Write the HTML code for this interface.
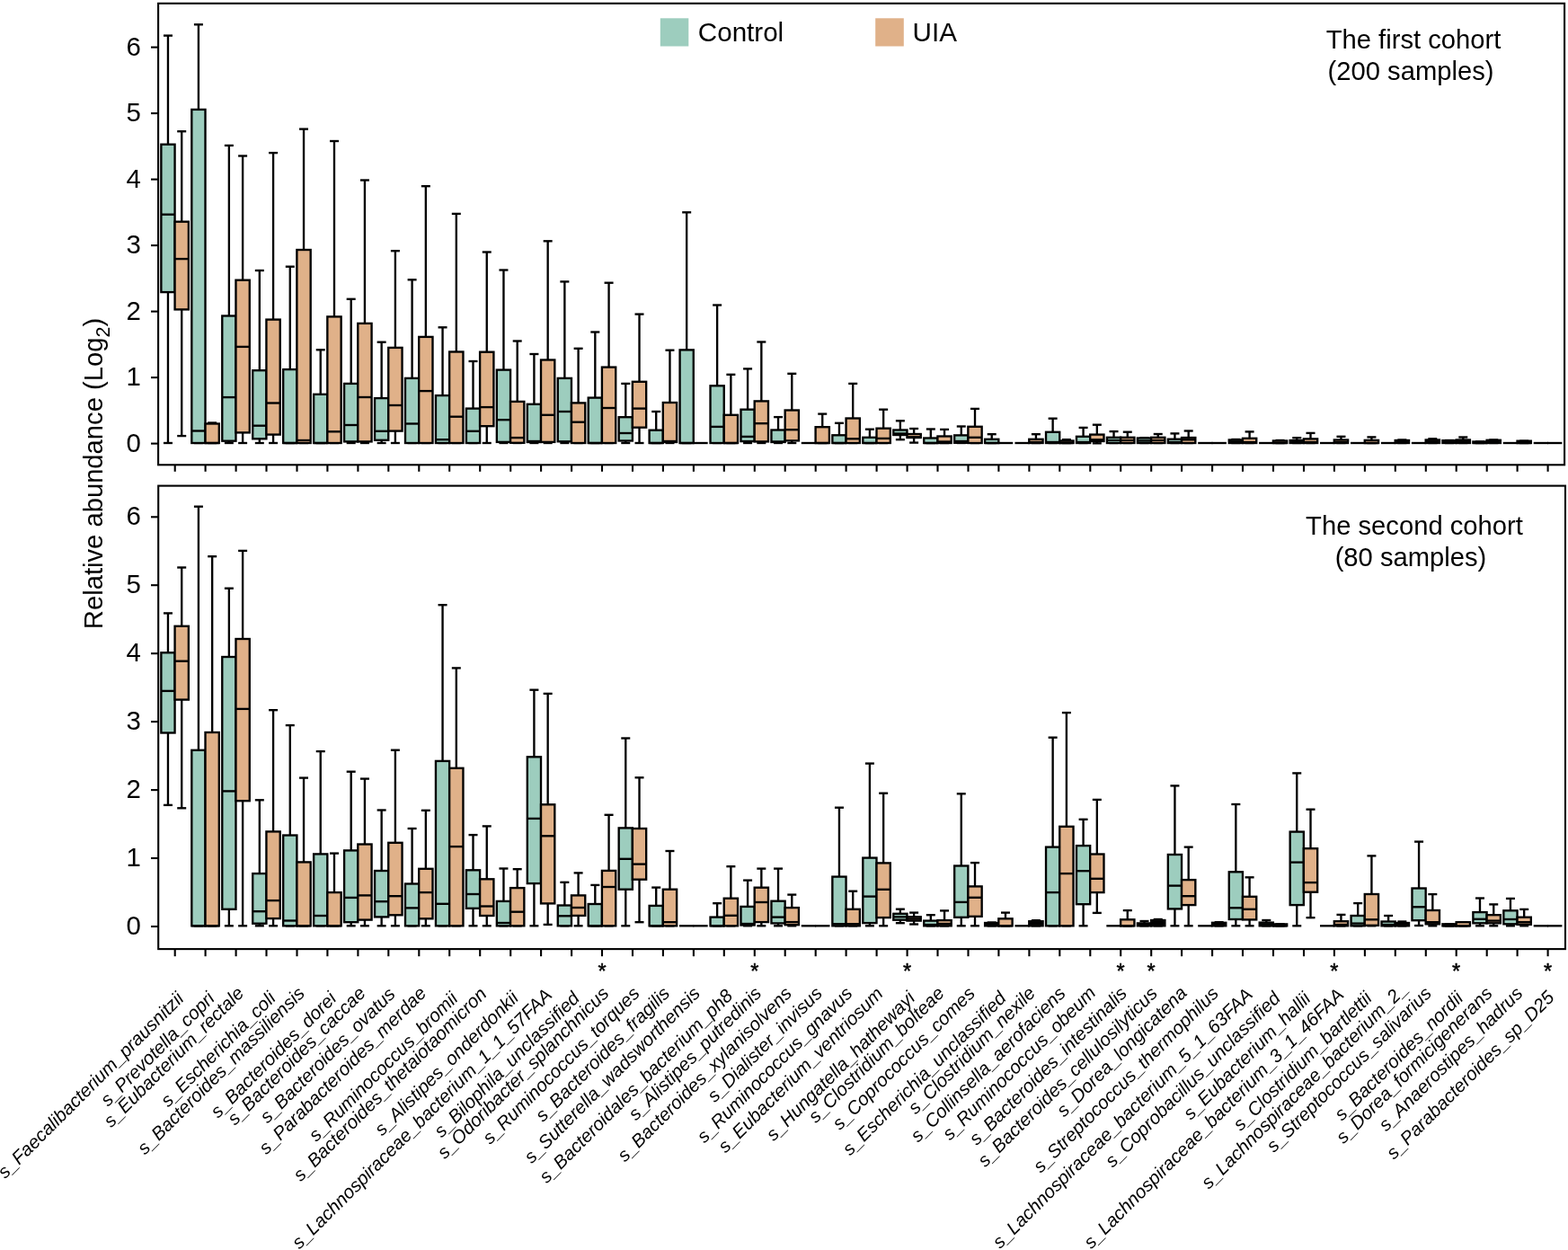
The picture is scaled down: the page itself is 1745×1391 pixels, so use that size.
<!DOCTYPE html><html><head><meta charset="utf-8"><title>Relative abundance box plots</title>
<style>html,body{margin:0;padding:0;background:#fff;}svg{display:block;}text{font-family:"Liberation Sans",Arial,sans-serif;fill:#000;}.lab{font-style:italic;font-size:20.6px;}</style></head><body>
<svg width="1745" height="1391" viewBox="0 0 1745 1391">
<rect x="0" y="0" width="1745" height="1391" fill="#fff"/>
<g stroke="#000" stroke-width="2.35" fill="none" stroke-linecap="butt" stroke-linejoin="miter">
<line x1="186.96" y1="39.6" x2="186.96" y2="160.7" />
<line x1="181.96" y1="39.6" x2="191.96" y2="39.6" />
<line x1="186.96" y1="325.1" x2="186.96" y2="493" />
<line x1="181.96" y1="493" x2="191.96" y2="493" />
<rect x="179.36" y="160.7" width="15.20" height="164.4" fill="#9dcdbe" />
<line x1="179.36" y1="238.7" x2="194.56" y2="238.7" />
<line x1="202.21" y1="146.2" x2="202.21" y2="246.7" />
<line x1="197.21" y1="146.2" x2="207.21" y2="146.2" />
<line x1="202.21" y1="344.4" x2="202.21" y2="485.1" />
<line x1="197.21" y1="485.1" x2="207.21" y2="485.1" />
<rect x="194.56" y="246.7" width="15.30" height="97.7" fill="#e0b189" />
<line x1="194.56" y1="288.1" x2="209.86" y2="288.1" />
<line x1="220.91" y1="27.3" x2="220.91" y2="121.9" />
<line x1="215.91" y1="27.3" x2="225.91" y2="27.3" />
<line x1="215.91" y1="493" x2="225.91" y2="493" />
<rect x="213.31" y="121.9" width="15.20" height="371.1" fill="#9dcdbe" />
<line x1="213.31" y1="479.5" x2="228.51" y2="479.5" />
<line x1="236.16" y1="470.5" x2="236.16" y2="471.5" />
<line x1="231.16" y1="470.5" x2="241.16" y2="470.5" />
<line x1="231.16" y1="493" x2="241.16" y2="493" />
<rect x="228.51" y="471.5" width="15.30" height="21.5" fill="#e0b189" />
<line x1="228.51" y1="493" x2="243.81" y2="493" />
<line x1="254.87" y1="161.9" x2="254.87" y2="351.5" />
<line x1="249.87" y1="161.9" x2="259.87" y2="161.9" />
<line x1="254.87" y1="490.7" x2="254.87" y2="493" />
<line x1="249.87" y1="493" x2="259.87" y2="493" />
<rect x="247.27" y="351.5" width="15.20" height="139.2" fill="#9dcdbe" />
<line x1="247.27" y1="442.1" x2="262.47" y2="442.1" />
<line x1="270.12" y1="173.5" x2="270.12" y2="311.7" />
<line x1="265.12" y1="173.5" x2="275.12" y2="173.5" />
<line x1="270.12" y1="481.4" x2="270.12" y2="493" />
<line x1="265.12" y1="493" x2="275.12" y2="493" />
<rect x="262.47" y="311.7" width="15.30" height="169.7" fill="#e0b189" />
<line x1="262.47" y1="385.9" x2="277.77" y2="385.9" />
<line x1="288.82" y1="301.0" x2="288.82" y2="412.2" />
<line x1="283.82" y1="301.0" x2="293.82" y2="301.0" />
<line x1="288.82" y1="488.3" x2="288.82" y2="493" />
<line x1="283.82" y1="493" x2="293.82" y2="493" />
<rect x="281.22" y="412.2" width="15.20" height="76.1" fill="#9dcdbe" />
<line x1="281.22" y1="473.7" x2="296.42" y2="473.7" />
<line x1="304.07" y1="170.1" x2="304.07" y2="355.6" />
<line x1="299.07" y1="170.1" x2="309.07" y2="170.1" />
<line x1="304.07" y1="483.6" x2="304.07" y2="493" />
<line x1="299.07" y1="493" x2="309.07" y2="493" />
<rect x="296.42" y="355.6" width="15.30" height="128.0" fill="#e0b189" />
<line x1="296.42" y1="448.5" x2="311.72" y2="448.5" />
<line x1="322.78" y1="296.7" x2="322.78" y2="411.1" />
<line x1="317.78" y1="296.7" x2="327.78" y2="296.7" />
<line x1="317.78" y1="493" x2="327.78" y2="493" />
<rect x="315.18" y="411.1" width="15.20" height="81.9" fill="#9dcdbe" />
<line x1="315.18" y1="493" x2="330.38" y2="493" />
<line x1="338.03" y1="143.6" x2="338.03" y2="278.0" />
<line x1="333.03" y1="143.6" x2="343.03" y2="143.6" />
<line x1="333.03" y1="493" x2="343.03" y2="493" />
<rect x="330.38" y="278.0" width="15.30" height="215.0" fill="#e0b189" />
<line x1="330.38" y1="490" x2="345.68" y2="490" />
<line x1="356.73" y1="389.3" x2="356.73" y2="438.8" />
<line x1="351.73" y1="389.3" x2="361.73" y2="389.3" />
<line x1="351.73" y1="493" x2="361.73" y2="493" />
<rect x="349.13" y="438.8" width="15.20" height="54.2" fill="#9dcdbe" />
<line x1="349.13" y1="493" x2="364.33" y2="493" />
<line x1="371.98" y1="157.0" x2="371.98" y2="352.4" />
<line x1="366.98" y1="157.0" x2="376.98" y2="157.0" />
<line x1="366.98" y1="493" x2="376.98" y2="493" />
<rect x="364.33" y="352.4" width="15.30" height="140.6" fill="#e0b189" />
<line x1="364.33" y1="480.3" x2="379.63" y2="480.3" />
<line x1="390.68" y1="332.8" x2="390.68" y2="426.9" />
<line x1="385.68" y1="332.8" x2="395.68" y2="332.8" />
<line x1="390.68" y1="491.4" x2="390.68" y2="493" />
<line x1="385.68" y1="493" x2="395.68" y2="493" />
<rect x="383.08" y="426.9" width="15.20" height="64.5" fill="#9dcdbe" />
<line x1="383.08" y1="473.0" x2="398.28" y2="473.0" />
<line x1="405.93" y1="200.5" x2="405.93" y2="359.9" />
<line x1="400.93" y1="200.5" x2="410.93" y2="200.5" />
<line x1="405.93" y1="491.4" x2="405.93" y2="493" />
<line x1="400.93" y1="493" x2="410.93" y2="493" />
<rect x="398.28" y="359.9" width="15.30" height="131.5" fill="#e0b189" />
<line x1="398.28" y1="442.0" x2="413.58" y2="442.0" />
<line x1="424.64" y1="380.7" x2="424.64" y2="443.1" />
<line x1="419.64" y1="380.7" x2="429.64" y2="380.7" />
<line x1="424.64" y1="489.8" x2="424.64" y2="493" />
<line x1="419.64" y1="493" x2="429.64" y2="493" />
<rect x="417.04" y="443.1" width="15.20" height="46.7" fill="#9dcdbe" />
<line x1="417.04" y1="479.8" x2="432.24" y2="479.8" />
<line x1="439.89" y1="279.2" x2="439.89" y2="386.9" />
<line x1="434.89" y1="279.2" x2="444.89" y2="279.2" />
<line x1="439.89" y1="479.6" x2="439.89" y2="493" />
<line x1="434.89" y1="493" x2="444.89" y2="493" />
<rect x="432.24" y="386.9" width="15.30" height="92.7" fill="#e0b189" />
<line x1="432.24" y1="451.0" x2="447.54" y2="451.0" />
<line x1="458.59" y1="311.3" x2="458.59" y2="420.9" />
<line x1="453.59" y1="311.3" x2="463.59" y2="311.3" />
<line x1="453.59" y1="493" x2="463.59" y2="493" />
<rect x="450.99" y="420.9" width="15.20" height="72.1" fill="#9dcdbe" />
<line x1="450.99" y1="471.5" x2="466.19" y2="471.5" />
<line x1="473.84" y1="207.2" x2="473.84" y2="374.9" />
<line x1="468.84" y1="207.2" x2="478.84" y2="207.2" />
<line x1="468.84" y1="493" x2="478.84" y2="493" />
<rect x="466.19" y="374.9" width="15.30" height="118.1" fill="#e0b189" />
<line x1="466.19" y1="435.1" x2="481.49" y2="435.1" />
<line x1="492.55" y1="364.3" x2="492.55" y2="440.1" />
<line x1="487.55" y1="364.3" x2="497.55" y2="364.3" />
<line x1="487.55" y1="493" x2="497.55" y2="493" />
<rect x="484.95" y="440.1" width="15.20" height="52.9" fill="#9dcdbe" />
<line x1="484.95" y1="489.2" x2="500.15" y2="489.2" />
<line x1="507.80" y1="237.9" x2="507.80" y2="391.5" />
<line x1="502.80" y1="237.9" x2="512.80" y2="237.9" />
<line x1="502.80" y1="493" x2="512.80" y2="493" />
<rect x="500.15" y="391.5" width="15.30" height="101.5" fill="#e0b189" />
<line x1="500.15" y1="463.7" x2="515.45" y2="463.7" />
<line x1="526.50" y1="402.0" x2="526.50" y2="454.6" />
<line x1="521.50" y1="402.0" x2="531.50" y2="402.0" />
<line x1="521.50" y1="493" x2="531.50" y2="493" />
<rect x="518.90" y="454.6" width="15.20" height="38.4" fill="#9dcdbe" />
<line x1="518.90" y1="479.8" x2="534.10" y2="479.8" />
<line x1="541.75" y1="280.5" x2="541.75" y2="391.7" />
<line x1="536.75" y1="280.5" x2="546.75" y2="280.5" />
<line x1="541.75" y1="474.2" x2="541.75" y2="493" />
<line x1="536.75" y1="493" x2="546.75" y2="493" />
<rect x="534.10" y="391.7" width="15.30" height="82.5" fill="#e0b189" />
<line x1="534.10" y1="453.1" x2="549.40" y2="453.1" />
<line x1="560.45" y1="300.5" x2="560.45" y2="411.6" />
<line x1="555.45" y1="300.5" x2="565.45" y2="300.5" />
<line x1="560.45" y1="491.9" x2="560.45" y2="493" />
<line x1="555.45" y1="493" x2="565.45" y2="493" />
<rect x="552.85" y="411.6" width="15.20" height="80.3" fill="#9dcdbe" />
<line x1="552.85" y1="467.2" x2="568.05" y2="467.2" />
<line x1="575.70" y1="379.5" x2="575.70" y2="446.9" />
<line x1="570.70" y1="379.5" x2="580.70" y2="379.5" />
<line x1="570.70" y1="493" x2="580.70" y2="493" />
<rect x="568.05" y="446.9" width="15.30" height="45.9" fill="#e0b189" />
<line x1="568.05" y1="487.1" x2="583.35" y2="487.1" />
<line x1="594.41" y1="394.0" x2="594.41" y2="449.8" />
<line x1="589.41" y1="394.0" x2="599.41" y2="394.0" />
<line x1="594.41" y1="492.0" x2="594.41" y2="493" />
<line x1="589.41" y1="493" x2="599.41" y2="493" />
<rect x="586.81" y="449.8" width="15.20" height="42.2" fill="#9dcdbe" />
<line x1="586.81" y1="491.0" x2="602.01" y2="491.0" />
<line x1="609.66" y1="268.3" x2="609.66" y2="400.5" />
<line x1="604.66" y1="268.3" x2="614.66" y2="268.3" />
<line x1="609.66" y1="491.9" x2="609.66" y2="493" />
<line x1="604.66" y1="493" x2="614.66" y2="493" />
<rect x="602.01" y="400.5" width="15.30" height="91.4" fill="#e0b189" />
<line x1="602.01" y1="461.8" x2="617.31" y2="461.8" />
<line x1="628.36" y1="313.4" x2="628.36" y2="420.9" />
<line x1="623.36" y1="313.4" x2="633.36" y2="313.4" />
<line x1="628.36" y1="491.3" x2="628.36" y2="493" />
<line x1="623.36" y1="493" x2="633.36" y2="493" />
<rect x="620.76" y="420.9" width="15.20" height="70.4" fill="#9dcdbe" />
<line x1="620.76" y1="458.0" x2="635.96" y2="458.0" />
<line x1="643.61" y1="387.8" x2="643.61" y2="448.4" />
<line x1="638.61" y1="387.8" x2="648.61" y2="387.8" />
<line x1="638.61" y1="493" x2="648.61" y2="493" />
<rect x="635.96" y="448.4" width="15.30" height="44.6" fill="#e0b189" />
<line x1="635.96" y1="469.7" x2="651.26" y2="469.7" />
<line x1="662.32" y1="369.5" x2="662.32" y2="442.6" />
<line x1="657.32" y1="369.5" x2="667.32" y2="369.5" />
<line x1="657.32" y1="493" x2="667.32" y2="493" />
<rect x="654.72" y="442.6" width="15.20" height="50.4" fill="#9dcdbe" />
<line x1="654.72" y1="493" x2="669.92" y2="493" />
<line x1="677.57" y1="314.7" x2="677.57" y2="408.6" />
<line x1="672.57" y1="314.7" x2="682.57" y2="314.7" />
<line x1="672.57" y1="493" x2="682.57" y2="493" />
<rect x="669.92" y="408.6" width="15.30" height="84.4" fill="#e0b189" />
<line x1="669.92" y1="454.0" x2="685.22" y2="454.0" />
<line x1="696.27" y1="426.9" x2="696.27" y2="464.2" />
<line x1="691.27" y1="426.9" x2="701.27" y2="426.9" />
<line x1="696.27" y1="490.5" x2="696.27" y2="493" />
<line x1="691.27" y1="493" x2="701.27" y2="493" />
<rect x="688.67" y="464.2" width="15.20" height="26.3" fill="#9dcdbe" />
<line x1="688.67" y1="482.0" x2="703.87" y2="482.0" />
<line x1="711.52" y1="349.6" x2="711.52" y2="424.8" />
<line x1="706.52" y1="349.6" x2="716.52" y2="349.6" />
<line x1="711.52" y1="475.7" x2="711.52" y2="493" />
<line x1="706.52" y1="493" x2="716.52" y2="493" />
<rect x="703.87" y="424.8" width="15.30" height="50.9" fill="#e0b189" />
<line x1="703.87" y1="454.6" x2="719.17" y2="454.6" />
<line x1="730.22" y1="458.0" x2="730.22" y2="478.7" />
<line x1="725.22" y1="458.0" x2="735.22" y2="458.0" />
<line x1="725.22" y1="493" x2="735.22" y2="493" />
<rect x="722.62" y="478.7" width="15.20" height="14.3" fill="#9dcdbe" />
<line x1="722.62" y1="493" x2="737.82" y2="493" />
<line x1="745.47" y1="389.7" x2="745.47" y2="448.0" />
<line x1="740.47" y1="389.7" x2="750.47" y2="389.7" />
<line x1="745.47" y1="492" x2="745.47" y2="493" />
<line x1="740.47" y1="493" x2="750.47" y2="493" />
<rect x="737.82" y="448.0" width="15.30" height="44.0" fill="#e0b189" />
<line x1="737.82" y1="491" x2="753.12" y2="491" />
<line x1="764.18" y1="236.3" x2="764.18" y2="389.4" />
<line x1="759.18" y1="236.3" x2="769.18" y2="236.3" />
<line x1="759.18" y1="493" x2="769.18" y2="493" />
<rect x="756.58" y="389.4" width="15.20" height="103.6" fill="#9dcdbe" />
<line x1="756.58" y1="493" x2="771.78" y2="493" />
<line x1="771.18" y1="493.0" x2="787.68" y2="493.0" />
<line x1="798.13" y1="339.5" x2="798.13" y2="429.3" />
<line x1="793.13" y1="339.5" x2="803.13" y2="339.5" />
<line x1="793.13" y1="493" x2="803.13" y2="493" />
<rect x="790.53" y="429.3" width="15.20" height="63.7" fill="#9dcdbe" />
<line x1="790.53" y1="474.9" x2="805.73" y2="474.9" />
<line x1="813.38" y1="416.8" x2="813.38" y2="461.8" />
<line x1="808.38" y1="416.8" x2="818.38" y2="416.8" />
<line x1="808.38" y1="493" x2="818.38" y2="493" />
<rect x="805.73" y="461.8" width="15.30" height="31.2" fill="#e0b189" />
<line x1="805.73" y1="493" x2="821.03" y2="493" />
<line x1="832.09" y1="410.4" x2="832.09" y2="455.7" />
<line x1="827.09" y1="410.4" x2="837.09" y2="410.4" />
<line x1="832.09" y1="491.1" x2="832.09" y2="493" />
<line x1="827.09" y1="493" x2="837.09" y2="493" />
<rect x="824.49" y="455.7" width="15.20" height="35.4" fill="#9dcdbe" />
<line x1="824.49" y1="485.9" x2="839.69" y2="485.9" />
<line x1="847.34" y1="380.5" x2="847.34" y2="446.4" />
<line x1="842.34" y1="380.5" x2="852.34" y2="380.5" />
<line x1="847.34" y1="491.4" x2="847.34" y2="493" />
<line x1="842.34" y1="493" x2="852.34" y2="493" />
<rect x="839.69" y="446.4" width="15.30" height="45.0" fill="#e0b189" />
<line x1="839.69" y1="471.2" x2="854.99" y2="471.2" />
<line x1="866.04" y1="464.1" x2="866.04" y2="478.5" />
<line x1="861.04" y1="464.1" x2="871.04" y2="464.1" />
<line x1="866.04" y1="492" x2="866.04" y2="493" />
<line x1="861.04" y1="493" x2="871.04" y2="493" />
<rect x="858.44" y="478.5" width="15.20" height="13.5" fill="#9dcdbe" />
<line x1="858.44" y1="491.5" x2="873.64" y2="491.5" />
<line x1="881.29" y1="415.8" x2="881.29" y2="456.5" />
<line x1="876.29" y1="415.8" x2="886.29" y2="415.8" />
<line x1="881.29" y1="490.4" x2="881.29" y2="493" />
<line x1="876.29" y1="493" x2="886.29" y2="493" />
<rect x="873.64" y="456.5" width="15.30" height="33.9" fill="#e0b189" />
<line x1="873.64" y1="478.2" x2="888.94" y2="478.2" />
<line x1="891.79" y1="493.0" x2="908.19" y2="493.0" />
<line x1="915.24" y1="460.6" x2="915.24" y2="475.2" />
<line x1="910.24" y1="460.6" x2="920.24" y2="460.6" />
<line x1="910.24" y1="493" x2="920.24" y2="493" />
<rect x="907.59" y="475.2" width="15.30" height="17.8" fill="#e0b189" />
<line x1="907.59" y1="493" x2="922.89" y2="493" />
<line x1="933.95" y1="470.8" x2="933.95" y2="484.3" />
<line x1="928.95" y1="470.8" x2="938.95" y2="470.8" />
<line x1="928.95" y1="493" x2="938.95" y2="493" />
<rect x="926.35" y="484.3" width="15.20" height="8.7" fill="#9dcdbe" />
<line x1="926.35" y1="493" x2="941.55" y2="493" />
<line x1="949.20" y1="426.9" x2="949.20" y2="465.5" />
<line x1="944.20" y1="426.9" x2="954.20" y2="426.9" />
<line x1="944.20" y1="493" x2="954.20" y2="493" />
<rect x="941.55" y="465.5" width="15.30" height="27.5" fill="#e0b189" />
<line x1="941.55" y1="488.3" x2="956.85" y2="488.3" />
<line x1="967.90" y1="477.7" x2="967.90" y2="486.8" />
<line x1="962.90" y1="477.7" x2="972.90" y2="477.7" />
<line x1="962.90" y1="493" x2="972.90" y2="493" />
<rect x="960.30" y="486.8" width="15.20" height="6.2" fill="#9dcdbe" />
<line x1="960.30" y1="493" x2="975.50" y2="493" />
<line x1="983.15" y1="455.7" x2="983.15" y2="476.7" />
<line x1="978.15" y1="455.7" x2="988.15" y2="455.7" />
<line x1="978.15" y1="493" x2="988.15" y2="493" />
<rect x="975.50" y="476.7" width="15.30" height="16.3" fill="#e0b189" />
<line x1="975.50" y1="487.9" x2="990.80" y2="487.9" />
<line x1="1001.86" y1="468.3" x2="1001.86" y2="478.5" />
<line x1="996.86" y1="468.3" x2="1006.86" y2="468.3" />
<line x1="1001.86" y1="484" x2="1001.86" y2="489.2" />
<line x1="996.86" y1="489.2" x2="1006.86" y2="489.2" />
<rect x="994.26" y="478.5" width="15.20" height="5.5" fill="#9dcdbe" />
<line x1="994.26" y1="482.5" x2="1009.46" y2="482.5" />
<line x1="1017.11" y1="477.0" x2="1017.11" y2="483" />
<line x1="1012.11" y1="477.0" x2="1022.11" y2="477.0" />
<line x1="1017.11" y1="487" x2="1017.11" y2="492.6" />
<line x1="1012.11" y1="492.6" x2="1022.11" y2="492.6" />
<rect x="1009.46" y="483" width="15.30" height="4.0" fill="#e0b189" />
<line x1="1009.46" y1="486.3" x2="1024.76" y2="486.3" />
<line x1="1035.81" y1="477.5" x2="1035.81" y2="487.5" />
<line x1="1030.81" y1="477.5" x2="1040.81" y2="477.5" />
<line x1="1030.81" y1="493" x2="1040.81" y2="493" />
<rect x="1028.21" y="487.5" width="15.20" height="5.5" fill="#9dcdbe" />
<line x1="1028.21" y1="493" x2="1043.41" y2="493" />
<line x1="1051.06" y1="477.9" x2="1051.06" y2="485.5" />
<line x1="1046.06" y1="477.9" x2="1056.06" y2="477.9" />
<line x1="1046.06" y1="493" x2="1056.06" y2="493" />
<rect x="1043.41" y="485.5" width="15.30" height="7.5" fill="#e0b189" />
<line x1="1043.41" y1="491.5" x2="1058.71" y2="491.5" />
<line x1="1069.76" y1="474.5" x2="1069.76" y2="484.4" />
<line x1="1064.76" y1="474.5" x2="1074.76" y2="474.5" />
<line x1="1064.76" y1="493" x2="1074.76" y2="493" />
<rect x="1062.16" y="484.4" width="15.20" height="8.4" fill="#9dcdbe" />
<line x1="1062.16" y1="491.0" x2="1077.36" y2="491.0" />
<line x1="1085.01" y1="454.9" x2="1085.01" y2="474.8" />
<line x1="1080.01" y1="454.9" x2="1090.01" y2="454.9" />
<line x1="1080.01" y1="493" x2="1090.01" y2="493" />
<rect x="1077.36" y="474.8" width="15.30" height="18.2" fill="#e0b189" />
<line x1="1077.36" y1="486.8" x2="1092.66" y2="486.8" />
<line x1="1103.72" y1="483.2" x2="1103.72" y2="488.8" />
<line x1="1098.72" y1="483.2" x2="1108.72" y2="483.2" />
<line x1="1098.72" y1="493" x2="1108.72" y2="493" />
<rect x="1096.12" y="488.8" width="15.20" height="4.2" fill="#9dcdbe" />
<line x1="1096.12" y1="493" x2="1111.32" y2="493" />
<line x1="1110.72" y1="493.0" x2="1127.22" y2="493.0" />
<line x1="1129.47" y1="493.0" x2="1145.87" y2="493.0" />
<line x1="1152.92" y1="483.2" x2="1152.92" y2="488.8" />
<line x1="1147.92" y1="483.2" x2="1157.92" y2="483.2" />
<line x1="1147.92" y1="493" x2="1157.92" y2="493" />
<rect x="1145.27" y="488.8" width="15.30" height="4.2" fill="#e0b189" />
<line x1="1145.27" y1="492" x2="1160.57" y2="492" />
<line x1="1171.63" y1="465.7" x2="1171.63" y2="480.8" />
<line x1="1166.63" y1="465.7" x2="1176.63" y2="465.7" />
<line x1="1166.63" y1="493" x2="1176.63" y2="493" />
<rect x="1164.03" y="480.8" width="15.20" height="12.2" fill="#9dcdbe" />
<line x1="1164.03" y1="492" x2="1179.23" y2="492" />
<line x1="1186.88" y1="489.2" x2="1186.88" y2="490.5" />
<line x1="1181.88" y1="489.2" x2="1191.88" y2="489.2" />
<line x1="1181.88" y1="493" x2="1191.88" y2="493" />
<rect x="1179.23" y="490.5" width="15.30" height="2.5" fill="#e0b189" />
<line x1="1179.23" y1="493" x2="1194.53" y2="493" />
<line x1="1205.58" y1="475.9" x2="1205.58" y2="485.8" />
<line x1="1200.58" y1="475.9" x2="1210.58" y2="475.9" />
<line x1="1200.58" y1="493" x2="1210.58" y2="493" />
<rect x="1197.98" y="485.8" width="15.20" height="7.2" fill="#9dcdbe" />
<line x1="1197.98" y1="492" x2="1213.18" y2="492" />
<line x1="1220.83" y1="472.7" x2="1220.83" y2="483.6" />
<line x1="1215.83" y1="472.7" x2="1225.83" y2="472.7" />
<line x1="1220.83" y1="491" x2="1220.83" y2="493.3" />
<line x1="1215.83" y1="493.3" x2="1225.83" y2="493.3" />
<rect x="1213.18" y="483.6" width="15.30" height="7.4" fill="#e0b189" />
<line x1="1213.18" y1="489.3" x2="1228.48" y2="489.3" />
<line x1="1239.53" y1="480.1" x2="1239.53" y2="486.8" />
<line x1="1234.53" y1="480.1" x2="1244.53" y2="480.1" />
<line x1="1234.53" y1="493" x2="1244.53" y2="493" />
<rect x="1231.93" y="486.8" width="15.20" height="6.2" fill="#9dcdbe" />
<line x1="1231.93" y1="490" x2="1247.13" y2="490" />
<line x1="1254.78" y1="480.7" x2="1254.78" y2="486.8" />
<line x1="1249.78" y1="480.7" x2="1259.78" y2="480.7" />
<line x1="1249.78" y1="493" x2="1259.78" y2="493" />
<rect x="1247.13" y="486.8" width="15.30" height="6.2" fill="#e0b189" />
<line x1="1247.13" y1="490" x2="1262.43" y2="490" />
<line x1="1268.49" y1="487.2" x2="1278.49" y2="487.2" />
<line x1="1268.49" y1="493" x2="1278.49" y2="493" />
<rect x="1265.89" y="487.5" width="15.20" height="5.5" fill="#9dcdbe" />
<line x1="1265.89" y1="490.5" x2="1281.09" y2="490.5" />
<line x1="1288.74" y1="483" x2="1288.74" y2="486.8" />
<line x1="1283.74" y1="483" x2="1293.74" y2="483" />
<line x1="1283.74" y1="493" x2="1293.74" y2="493" />
<rect x="1281.09" y="486.8" width="15.30" height="6.2" fill="#e0b189" />
<line x1="1281.09" y1="490" x2="1296.39" y2="490" />
<line x1="1307.44" y1="482.4" x2="1307.44" y2="488.7" />
<line x1="1302.44" y1="482.4" x2="1312.44" y2="482.4" />
<line x1="1302.44" y1="493" x2="1312.44" y2="493" />
<rect x="1299.84" y="488.7" width="15.20" height="4.3" fill="#9dcdbe" />
<line x1="1299.84" y1="492" x2="1315.04" y2="492" />
<line x1="1322.69" y1="479.5" x2="1322.69" y2="487" />
<line x1="1317.69" y1="479.5" x2="1327.69" y2="479.5" />
<line x1="1317.69" y1="493" x2="1327.69" y2="493" />
<rect x="1315.04" y="487" width="15.30" height="6.0" fill="#e0b189" />
<line x1="1315.04" y1="489.3" x2="1330.34" y2="489.3" />
<line x1="1333.20" y1="493.0" x2="1349.60" y2="493.0" />
<line x1="1348.40" y1="493.0" x2="1364.90" y2="493.0" />
<line x1="1375.35" y1="489" x2="1375.35" y2="489.5" />
<line x1="1370.35" y1="489" x2="1380.35" y2="489" />
<line x1="1370.35" y1="493" x2="1380.35" y2="493" />
<rect x="1367.75" y="489.5" width="15.20" height="3.5" fill="#9dcdbe" />
<line x1="1367.75" y1="491.3" x2="1382.95" y2="491.3" />
<line x1="1390.60" y1="480.4" x2="1390.60" y2="487.8" />
<line x1="1385.60" y1="480.4" x2="1395.60" y2="480.4" />
<line x1="1385.60" y1="493" x2="1395.60" y2="493" />
<rect x="1382.95" y="487.8" width="15.30" height="5.2" fill="#e0b189" />
<line x1="1382.95" y1="492" x2="1398.25" y2="492" />
<line x1="1401.10" y1="493.0" x2="1417.50" y2="493.0" />
<line x1="1424.55" y1="490" x2="1424.55" y2="490.5" />
<line x1="1419.55" y1="490" x2="1429.55" y2="490" />
<line x1="1419.55" y1="493" x2="1429.55" y2="493" />
<rect x="1416.90" y="490.5" width="15.30" height="2.5" fill="#e0b189" />
<line x1="1416.90" y1="493" x2="1432.20" y2="493" />
<line x1="1443.26" y1="487.2" x2="1443.26" y2="490" />
<line x1="1438.26" y1="487.2" x2="1448.26" y2="487.2" />
<line x1="1438.26" y1="493" x2="1448.26" y2="493" />
<rect x="1435.66" y="490" width="15.20" height="3.0" fill="#9dcdbe" />
<line x1="1435.66" y1="491.5" x2="1450.86" y2="491.5" />
<line x1="1458.51" y1="481.9" x2="1458.51" y2="488.4" />
<line x1="1453.51" y1="481.9" x2="1463.51" y2="481.9" />
<line x1="1453.51" y1="493" x2="1463.51" y2="493" />
<rect x="1450.86" y="488.4" width="15.30" height="4.6" fill="#e0b189" />
<line x1="1450.86" y1="492" x2="1466.16" y2="492" />
<line x1="1469.01" y1="493.0" x2="1485.41" y2="493.0" />
<line x1="1492.46" y1="485.8" x2="1492.46" y2="489.5" />
<line x1="1487.46" y1="485.8" x2="1497.46" y2="485.8" />
<line x1="1487.46" y1="493" x2="1497.46" y2="493" />
<rect x="1484.81" y="489.5" width="15.30" height="3.5" fill="#e0b189" />
<line x1="1484.81" y1="492" x2="1500.11" y2="492" />
<line x1="1502.97" y1="493.0" x2="1519.37" y2="493.0" />
<line x1="1526.42" y1="486.4" x2="1526.42" y2="489.9" />
<line x1="1521.42" y1="486.4" x2="1531.42" y2="486.4" />
<line x1="1521.42" y1="493" x2="1531.42" y2="493" />
<rect x="1518.77" y="489.9" width="15.30" height="3.1" fill="#e0b189" />
<line x1="1518.77" y1="493" x2="1534.07" y2="493" />
<line x1="1536.92" y1="493.0" x2="1553.32" y2="493.0" />
<line x1="1560.37" y1="489.5" x2="1560.37" y2="490" />
<line x1="1555.37" y1="489.5" x2="1565.37" y2="489.5" />
<line x1="1555.37" y1="493" x2="1565.37" y2="493" />
<rect x="1552.72" y="490" width="15.30" height="3.0" fill="#e0b189" />
<line x1="1552.72" y1="491.5" x2="1568.02" y2="491.5" />
<line x1="1570.87" y1="493.0" x2="1587.27" y2="493.0" />
<line x1="1594.32" y1="488.3" x2="1594.32" y2="489.5" />
<line x1="1589.32" y1="488.3" x2="1599.32" y2="488.3" />
<line x1="1589.32" y1="493" x2="1599.32" y2="493" />
<rect x="1586.67" y="489.5" width="15.30" height="3.5" fill="#e0b189" />
<line x1="1586.67" y1="491.3" x2="1601.97" y2="491.3" />
<line x1="1608.03" y1="490" x2="1618.03" y2="490" />
<line x1="1608.03" y1="493" x2="1618.03" y2="493" />
<rect x="1605.43" y="490.2" width="15.20" height="2.8" fill="#9dcdbe" />
<line x1="1605.43" y1="491.6" x2="1620.63" y2="491.6" />
<line x1="1628.28" y1="486.5" x2="1628.28" y2="489.5" />
<line x1="1623.28" y1="486.5" x2="1633.28" y2="486.5" />
<line x1="1623.28" y1="493" x2="1633.28" y2="493" />
<rect x="1620.63" y="489.5" width="15.30" height="3.5" fill="#e0b189" />
<line x1="1620.63" y1="491.3" x2="1635.93" y2="491.3" />
<line x1="1641.98" y1="491.5" x2="1651.98" y2="491.5" />
<line x1="1641.98" y1="493" x2="1651.98" y2="493" />
<rect x="1639.38" y="491.5" width="15.20" height="1.5" fill="#9dcdbe" />
<line x1="1639.38" y1="493" x2="1654.58" y2="493" />
<line x1="1657.23" y1="489.5" x2="1667.23" y2="489.5" />
<line x1="1657.23" y1="493" x2="1667.23" y2="493" />
<rect x="1654.58" y="489.8" width="15.30" height="3.2" fill="#e0b189" />
<line x1="1654.58" y1="491.4" x2="1669.88" y2="491.4" />
<line x1="1672.74" y1="493.0" x2="1689.14" y2="493.0" />
<line x1="1691.19" y1="490.7" x2="1701.19" y2="490.7" />
<line x1="1691.19" y1="493" x2="1701.19" y2="493" />
<rect x="1688.54" y="490.7" width="15.30" height="2.3" fill="#e0b189" />
<line x1="1688.54" y1="493" x2="1703.84" y2="493" />
<line x1="1706.69" y1="493.0" x2="1723.09" y2="493.0" />
<line x1="1721.89" y1="493.0" x2="1738.39" y2="493.0" />
<line x1="186.96" y1="682.4" x2="186.96" y2="726.3" />
<line x1="181.96" y1="682.4" x2="191.96" y2="682.4" />
<line x1="186.96" y1="815.5" x2="186.96" y2="895.9" />
<line x1="181.96" y1="895.9" x2="191.96" y2="895.9" />
<rect x="179.36" y="726.3" width="15.20" height="89.2" fill="#9dcdbe" />
<line x1="179.36" y1="768.9" x2="194.56" y2="768.9" />
<line x1="202.21" y1="631.5" x2="202.21" y2="696.8" />
<line x1="197.21" y1="631.5" x2="207.21" y2="631.5" />
<line x1="202.21" y1="778.6" x2="202.21" y2="899.3" />
<line x1="197.21" y1="899.3" x2="207.21" y2="899.3" />
<rect x="194.56" y="696.8" width="15.30" height="81.8" fill="#e0b189" />
<line x1="194.56" y1="735.7" x2="209.86" y2="735.7" />
<line x1="220.91" y1="563.7" x2="220.91" y2="834.8" />
<line x1="215.91" y1="563.7" x2="225.91" y2="563.7" />
<line x1="215.91" y1="1030.3" x2="225.91" y2="1030.3" />
<rect x="213.31" y="834.8" width="15.20" height="195.5" fill="#9dcdbe" />
<line x1="213.31" y1="1030.3" x2="228.51" y2="1030.3" />
<line x1="236.16" y1="619.2" x2="236.16" y2="815.0" />
<line x1="231.16" y1="619.2" x2="241.16" y2="619.2" />
<line x1="231.16" y1="1030.3" x2="241.16" y2="1030.3" />
<rect x="228.51" y="815.0" width="15.30" height="215.3" fill="#e0b189" />
<line x1="228.51" y1="1030.3" x2="243.81" y2="1030.3" />
<line x1="254.87" y1="654.7" x2="254.87" y2="731.0" />
<line x1="249.87" y1="654.7" x2="259.87" y2="654.7" />
<line x1="254.87" y1="1011.8" x2="254.87" y2="1030.3" />
<line x1="249.87" y1="1030.3" x2="259.87" y2="1030.3" />
<rect x="247.27" y="731.0" width="15.20" height="280.8" fill="#9dcdbe" />
<line x1="247.27" y1="880.4" x2="262.47" y2="880.4" />
<line x1="270.12" y1="612.9" x2="270.12" y2="711.0" />
<line x1="265.12" y1="612.9" x2="275.12" y2="612.9" />
<line x1="270.12" y1="891.2" x2="270.12" y2="1030.3" />
<line x1="265.12" y1="1030.3" x2="275.12" y2="1030.3" />
<rect x="262.47" y="711.0" width="15.30" height="180.2" fill="#e0b189" />
<line x1="262.47" y1="788.9" x2="277.77" y2="788.9" />
<line x1="288.82" y1="890.3" x2="288.82" y2="972.1" />
<line x1="283.82" y1="890.3" x2="293.82" y2="890.3" />
<line x1="288.82" y1="1027.7" x2="288.82" y2="1030.3" />
<line x1="283.82" y1="1030.3" x2="293.82" y2="1030.3" />
<rect x="281.22" y="972.1" width="15.20" height="55.6" fill="#9dcdbe" />
<line x1="281.22" y1="1014.2" x2="296.42" y2="1014.2" />
<line x1="304.07" y1="790.2" x2="304.07" y2="925.4" />
<line x1="299.07" y1="790.2" x2="309.07" y2="790.2" />
<line x1="304.07" y1="1022.1" x2="304.07" y2="1030.3" />
<line x1="299.07" y1="1030.3" x2="309.07" y2="1030.3" />
<rect x="296.42" y="925.4" width="15.30" height="96.7" fill="#e0b189" />
<line x1="296.42" y1="1002.1" x2="311.72" y2="1002.1" />
<line x1="322.78" y1="807.1" x2="322.78" y2="929.5" />
<line x1="317.78" y1="807.1" x2="327.78" y2="807.1" />
<line x1="317.78" y1="1030.3" x2="327.78" y2="1030.3" />
<rect x="315.18" y="929.5" width="15.20" height="100.8" fill="#9dcdbe" />
<line x1="315.18" y1="1024.5" x2="330.38" y2="1024.5" />
<line x1="338.03" y1="865.6" x2="338.03" y2="959.4" />
<line x1="333.03" y1="865.6" x2="343.03" y2="865.6" />
<line x1="333.03" y1="1030.3" x2="343.03" y2="1030.3" />
<rect x="330.38" y="959.4" width="15.30" height="70.9" fill="#e0b189" />
<line x1="330.38" y1="1030.3" x2="345.68" y2="1030.3" />
<line x1="356.73" y1="836.1" x2="356.73" y2="950.4" />
<line x1="351.73" y1="836.1" x2="361.73" y2="836.1" />
<line x1="351.73" y1="1030.3" x2="361.73" y2="1030.3" />
<rect x="349.13" y="950.4" width="15.20" height="79.9" fill="#9dcdbe" />
<line x1="349.13" y1="1019.0" x2="364.33" y2="1019.0" />
<line x1="371.98" y1="949.6" x2="371.98" y2="993.1" />
<line x1="366.98" y1="949.6" x2="376.98" y2="949.6" />
<line x1="366.98" y1="1030.3" x2="376.98" y2="1030.3" />
<rect x="364.33" y="993.1" width="15.30" height="37.2" fill="#e0b189" />
<line x1="364.33" y1="1030.3" x2="379.63" y2="1030.3" />
<line x1="390.68" y1="858.7" x2="390.68" y2="946.4" />
<line x1="385.68" y1="858.7" x2="395.68" y2="858.7" />
<line x1="390.68" y1="1026.2" x2="390.68" y2="1030.3" />
<line x1="385.68" y1="1030.3" x2="395.68" y2="1030.3" />
<rect x="383.08" y="946.4" width="15.20" height="79.8" fill="#9dcdbe" />
<line x1="383.08" y1="998.9" x2="398.28" y2="998.9" />
<line x1="405.93" y1="866.6" x2="405.93" y2="939.5" />
<line x1="400.93" y1="866.6" x2="410.93" y2="866.6" />
<line x1="405.93" y1="1023.6" x2="405.93" y2="1030.3" />
<line x1="400.93" y1="1030.3" x2="410.93" y2="1030.3" />
<rect x="398.28" y="939.5" width="15.30" height="84.1" fill="#e0b189" />
<line x1="398.28" y1="996.4" x2="413.58" y2="996.4" />
<line x1="424.64" y1="901.5" x2="424.64" y2="969.0" />
<line x1="419.64" y1="901.5" x2="429.64" y2="901.5" />
<line x1="424.64" y1="1020.4" x2="424.64" y2="1030.3" />
<line x1="419.64" y1="1030.3" x2="429.64" y2="1030.3" />
<rect x="417.04" y="969.0" width="15.20" height="51.4" fill="#9dcdbe" />
<line x1="417.04" y1="1003.2" x2="432.24" y2="1003.2" />
<line x1="439.89" y1="834.7" x2="439.89" y2="937.8" />
<line x1="434.89" y1="834.7" x2="444.89" y2="834.7" />
<line x1="439.89" y1="1018.3" x2="439.89" y2="1030.3" />
<line x1="434.89" y1="1030.3" x2="444.89" y2="1030.3" />
<rect x="432.24" y="937.8" width="15.30" height="80.5" fill="#e0b189" />
<line x1="432.24" y1="997.2" x2="447.54" y2="997.2" />
<line x1="458.59" y1="922.0" x2="458.59" y2="983.5" />
<line x1="453.59" y1="922.0" x2="463.59" y2="922.0" />
<line x1="453.59" y1="1030.3" x2="463.59" y2="1030.3" />
<rect x="450.99" y="983.5" width="15.20" height="46.8" fill="#9dcdbe" />
<line x1="450.99" y1="1010.4" x2="466.19" y2="1010.4" />
<line x1="473.84" y1="901.8" x2="473.84" y2="966.8" />
<line x1="468.84" y1="901.8" x2="478.84" y2="901.8" />
<line x1="473.84" y1="1022.3" x2="473.84" y2="1030.3" />
<line x1="468.84" y1="1030.3" x2="478.84" y2="1030.3" />
<rect x="466.19" y="966.8" width="15.30" height="55.5" fill="#e0b189" />
<line x1="466.19" y1="993.1" x2="481.49" y2="993.1" />
<line x1="492.55" y1="673.2" x2="492.55" y2="846.9" />
<line x1="487.55" y1="673.2" x2="497.55" y2="673.2" />
<line x1="487.55" y1="1030.3" x2="497.55" y2="1030.3" />
<rect x="484.95" y="846.9" width="15.20" height="183.4" fill="#9dcdbe" />
<line x1="484.95" y1="1005.8" x2="500.15" y2="1005.8" />
<line x1="507.80" y1="743.4" x2="507.80" y2="854.8" />
<line x1="502.80" y1="743.4" x2="512.80" y2="743.4" />
<line x1="502.80" y1="1030.3" x2="512.80" y2="1030.3" />
<rect x="500.15" y="854.8" width="15.30" height="175.5" fill="#e0b189" />
<line x1="500.15" y1="942.1" x2="515.45" y2="942.1" />
<line x1="526.50" y1="929.1" x2="526.50" y2="968.3" />
<line x1="521.50" y1="929.1" x2="531.50" y2="929.1" />
<line x1="526.50" y1="1010.8" x2="526.50" y2="1030.3" />
<line x1="521.50" y1="1030.3" x2="531.50" y2="1030.3" />
<rect x="518.90" y="968.3" width="15.20" height="42.5" fill="#9dcdbe" />
<line x1="518.90" y1="995.0" x2="534.10" y2="995.0" />
<line x1="541.75" y1="919.4" x2="541.75" y2="978.3" />
<line x1="536.75" y1="919.4" x2="546.75" y2="919.4" />
<line x1="541.75" y1="1019.0" x2="541.75" y2="1030.3" />
<line x1="536.75" y1="1030.3" x2="546.75" y2="1030.3" />
<rect x="534.10" y="978.3" width="15.30" height="40.7" fill="#e0b189" />
<line x1="534.10" y1="1008.5" x2="549.40" y2="1008.5" />
<line x1="560.45" y1="966.5" x2="560.45" y2="1002.9" />
<line x1="555.45" y1="966.5" x2="565.45" y2="966.5" />
<line x1="555.45" y1="1030.3" x2="565.45" y2="1030.3" />
<rect x="552.85" y="1002.9" width="15.20" height="27.4" fill="#9dcdbe" />
<line x1="552.85" y1="1027" x2="568.05" y2="1027" />
<line x1="575.70" y1="967.2" x2="575.70" y2="988.1" />
<line x1="570.70" y1="967.2" x2="580.70" y2="967.2" />
<line x1="570.70" y1="1030.3" x2="580.70" y2="1030.3" />
<rect x="568.05" y="988.1" width="15.30" height="42.2" fill="#e0b189" />
<line x1="568.05" y1="1014.7" x2="583.35" y2="1014.7" />
<line x1="594.41" y1="767.7" x2="594.41" y2="842.3" />
<line x1="589.41" y1="767.7" x2="599.41" y2="767.7" />
<line x1="594.41" y1="983.1" x2="594.41" y2="1030.3" />
<line x1="589.41" y1="1030.3" x2="599.41" y2="1030.3" />
<rect x="586.81" y="842.3" width="15.20" height="140.8" fill="#9dcdbe" />
<line x1="586.81" y1="910.9" x2="602.01" y2="910.9" />
<line x1="609.66" y1="771.9" x2="609.66" y2="895.3" />
<line x1="604.66" y1="771.9" x2="614.66" y2="771.9" />
<line x1="609.66" y1="1005.4" x2="609.66" y2="1028.9" />
<line x1="604.66" y1="1028.9" x2="614.66" y2="1028.9" />
<rect x="602.01" y="895.3" width="15.30" height="110.1" fill="#e0b189" />
<line x1="602.01" y1="930.3" x2="617.31" y2="930.3" />
<line x1="628.36" y1="981.8" x2="628.36" y2="1007.5" />
<line x1="623.36" y1="981.8" x2="633.36" y2="981.8" />
<line x1="623.36" y1="1030.3" x2="633.36" y2="1030.3" />
<rect x="620.76" y="1007.5" width="15.20" height="22.8" fill="#9dcdbe" />
<line x1="620.76" y1="1019.3" x2="635.96" y2="1019.3" />
<line x1="643.61" y1="971.4" x2="643.61" y2="996.4" />
<line x1="638.61" y1="971.4" x2="648.61" y2="971.4" />
<line x1="643.61" y1="1018.9" x2="643.61" y2="1030.3" />
<line x1="638.61" y1="1030.3" x2="648.61" y2="1030.3" />
<rect x="635.96" y="996.4" width="15.30" height="22.5" fill="#e0b189" />
<line x1="635.96" y1="1010.0" x2="651.26" y2="1010.0" />
<line x1="662.32" y1="984.9" x2="662.32" y2="1006.0" />
<line x1="657.32" y1="984.9" x2="667.32" y2="984.9" />
<line x1="657.32" y1="1030.3" x2="667.32" y2="1030.3" />
<rect x="654.72" y="1006.0" width="15.20" height="24.3" fill="#9dcdbe" />
<line x1="654.72" y1="1030.3" x2="669.92" y2="1030.3" />
<line x1="677.57" y1="906.8" x2="677.57" y2="968.9" />
<line x1="672.57" y1="906.8" x2="682.57" y2="906.8" />
<line x1="672.57" y1="1030.3" x2="682.57" y2="1030.3" />
<rect x="669.92" y="968.9" width="15.30" height="61.4" fill="#e0b189" />
<line x1="669.92" y1="987.0" x2="685.22" y2="987.0" />
<line x1="696.27" y1="821.5" x2="696.27" y2="921.4" />
<line x1="691.27" y1="821.5" x2="701.27" y2="821.5" />
<line x1="696.27" y1="989.7" x2="696.27" y2="1030.3" />
<line x1="691.27" y1="1030.3" x2="701.27" y2="1030.3" />
<rect x="688.67" y="921.4" width="15.20" height="68.3" fill="#9dcdbe" />
<line x1="688.67" y1="955.8" x2="703.87" y2="955.8" />
<line x1="711.52" y1="865.3" x2="711.52" y2="922.0" />
<line x1="706.52" y1="865.3" x2="716.52" y2="865.3" />
<line x1="711.52" y1="978.7" x2="711.52" y2="1026.2" />
<line x1="706.52" y1="1026.2" x2="716.52" y2="1026.2" />
<rect x="703.87" y="922.0" width="15.30" height="56.7" fill="#e0b189" />
<line x1="703.87" y1="961.6" x2="719.17" y2="961.6" />
<line x1="730.22" y1="987.6" x2="730.22" y2="1007.9" />
<line x1="725.22" y1="987.6" x2="735.22" y2="987.6" />
<line x1="725.22" y1="1030.3" x2="735.22" y2="1030.3" />
<rect x="722.62" y="1007.9" width="15.20" height="22.4" fill="#9dcdbe" />
<line x1="722.62" y1="1030.3" x2="737.82" y2="1030.3" />
<line x1="745.47" y1="947.0" x2="745.47" y2="989.7" />
<line x1="740.47" y1="947.0" x2="750.47" y2="947.0" />
<line x1="740.47" y1="1030.3" x2="750.47" y2="1030.3" />
<rect x="737.82" y="989.7" width="15.30" height="40.6" fill="#e0b189" />
<line x1="737.82" y1="1026.2" x2="753.12" y2="1026.2" />
<line x1="755.98" y1="1030.3" x2="772.38" y2="1030.3" />
<line x1="771.18" y1="1030.3" x2="787.68" y2="1030.3" />
<line x1="798.13" y1="1005.2" x2="798.13" y2="1020.6" />
<line x1="793.13" y1="1005.2" x2="803.13" y2="1005.2" />
<line x1="793.13" y1="1030.3" x2="803.13" y2="1030.3" />
<rect x="790.53" y="1020.6" width="15.20" height="9.7" fill="#9dcdbe" />
<line x1="790.53" y1="1030.3" x2="805.73" y2="1030.3" />
<line x1="813.38" y1="964.2" x2="813.38" y2="999.7" />
<line x1="808.38" y1="964.2" x2="818.38" y2="964.2" />
<line x1="808.38" y1="1030.3" x2="818.38" y2="1030.3" />
<rect x="805.73" y="999.7" width="15.30" height="30.6" fill="#e0b189" />
<line x1="805.73" y1="1018.8" x2="821.03" y2="1018.8" />
<line x1="832.09" y1="979.6" x2="832.09" y2="1008.9" />
<line x1="827.09" y1="979.6" x2="837.09" y2="979.6" />
<line x1="832.09" y1="1029.5" x2="832.09" y2="1030.3" />
<line x1="827.09" y1="1030.3" x2="837.09" y2="1030.3" />
<rect x="824.49" y="1008.9" width="15.20" height="20.6" fill="#9dcdbe" />
<line x1="824.49" y1="1028" x2="839.69" y2="1028" />
<line x1="847.34" y1="966.6" x2="847.34" y2="987.7" />
<line x1="842.34" y1="966.6" x2="852.34" y2="966.6" />
<line x1="847.34" y1="1026.1" x2="847.34" y2="1030.3" />
<line x1="842.34" y1="1030.3" x2="852.34" y2="1030.3" />
<rect x="839.69" y="987.7" width="15.30" height="38.4" fill="#e0b189" />
<line x1="839.69" y1="1004.0" x2="854.99" y2="1004.0" />
<line x1="866.04" y1="966.6" x2="866.04" y2="1002.7" />
<line x1="861.04" y1="966.6" x2="871.04" y2="966.6" />
<line x1="866.04" y1="1027.4" x2="866.04" y2="1030.3" />
<line x1="861.04" y1="1030.3" x2="871.04" y2="1030.3" />
<rect x="858.44" y="1002.7" width="15.20" height="24.7" fill="#9dcdbe" />
<line x1="858.44" y1="1020.6" x2="873.64" y2="1020.6" />
<line x1="881.29" y1="995.6" x2="881.29" y2="1010.1" />
<line x1="876.29" y1="995.6" x2="886.29" y2="995.6" />
<line x1="881.29" y1="1029.2" x2="881.29" y2="1030.3" />
<line x1="876.29" y1="1030.3" x2="886.29" y2="1030.3" />
<rect x="873.64" y="1010.1" width="15.30" height="19.1" fill="#e0b189" />
<line x1="873.64" y1="1026.1" x2="888.94" y2="1026.1" />
<line x1="891.79" y1="1030.3" x2="908.19" y2="1030.3" />
<line x1="906.99" y1="1030.3" x2="923.49" y2="1030.3" />
<line x1="933.95" y1="898.7" x2="933.95" y2="975.6" />
<line x1="928.95" y1="898.7" x2="938.95" y2="898.7" />
<line x1="928.95" y1="1030.3" x2="938.95" y2="1030.3" />
<rect x="926.35" y="975.6" width="15.20" height="54.7" fill="#9dcdbe" />
<line x1="926.35" y1="1028.2" x2="941.55" y2="1028.2" />
<line x1="949.20" y1="991.7" x2="949.20" y2="1011.8" />
<line x1="944.20" y1="991.7" x2="954.20" y2="991.7" />
<line x1="944.20" y1="1030.3" x2="954.20" y2="1030.3" />
<rect x="941.55" y="1011.8" width="15.30" height="18.5" fill="#e0b189" />
<line x1="941.55" y1="1028.2" x2="956.85" y2="1028.2" />
<line x1="967.90" y1="849.6" x2="967.90" y2="954.6" />
<line x1="962.90" y1="849.6" x2="972.90" y2="849.6" />
<line x1="967.90" y1="1027.1" x2="967.90" y2="1030.3" />
<line x1="962.90" y1="1030.3" x2="972.90" y2="1030.3" />
<rect x="960.30" y="954.6" width="15.20" height="72.5" fill="#9dcdbe" />
<line x1="960.30" y1="997.6" x2="975.50" y2="997.6" />
<line x1="983.15" y1="882.7" x2="983.15" y2="960.4" />
<line x1="978.15" y1="882.7" x2="988.15" y2="882.7" />
<line x1="983.15" y1="1021.1" x2="983.15" y2="1030.3" />
<line x1="978.15" y1="1030.3" x2="988.15" y2="1030.3" />
<rect x="975.50" y="960.4" width="15.30" height="60.7" fill="#e0b189" />
<line x1="975.50" y1="989.8" x2="990.80" y2="989.8" />
<line x1="1001.86" y1="1011.7" x2="1001.86" y2="1016.8" />
<line x1="996.86" y1="1011.7" x2="1006.86" y2="1011.7" />
<line x1="1001.86" y1="1023.7" x2="1001.86" y2="1027.2" />
<line x1="996.86" y1="1027.2" x2="1006.86" y2="1027.2" />
<rect x="994.26" y="1016.8" width="15.20" height="6.9" fill="#9dcdbe" />
<line x1="994.26" y1="1020.3" x2="1009.46" y2="1020.3" />
<line x1="1017.11" y1="1015.6" x2="1017.11" y2="1020.3" />
<line x1="1012.11" y1="1015.6" x2="1022.11" y2="1015.6" />
<line x1="1017.11" y1="1024.6" x2="1017.11" y2="1028.5" />
<line x1="1012.11" y1="1028.5" x2="1022.11" y2="1028.5" />
<rect x="1009.46" y="1020.3" width="15.30" height="4.3" fill="#e0b189" />
<line x1="1009.46" y1="1022.5" x2="1024.76" y2="1022.5" />
<line x1="1035.81" y1="1018.2" x2="1035.81" y2="1024.6" />
<line x1="1030.81" y1="1018.2" x2="1040.81" y2="1018.2" />
<line x1="1030.81" y1="1030.3" x2="1040.81" y2="1030.3" />
<rect x="1028.21" y="1024.6" width="15.20" height="5.7" fill="#9dcdbe" />
<line x1="1028.21" y1="1029" x2="1043.41" y2="1029" />
<line x1="1051.06" y1="1013.4" x2="1051.06" y2="1024.1" />
<line x1="1046.06" y1="1013.4" x2="1056.06" y2="1013.4" />
<line x1="1046.06" y1="1030.3" x2="1056.06" y2="1030.3" />
<rect x="1043.41" y="1024.1" width="15.30" height="6.2" fill="#e0b189" />
<line x1="1043.41" y1="1028" x2="1058.71" y2="1028" />
<line x1="1069.76" y1="883.3" x2="1069.76" y2="963.5" />
<line x1="1064.76" y1="883.3" x2="1074.76" y2="883.3" />
<line x1="1069.76" y1="1020.8" x2="1069.76" y2="1030.3" />
<line x1="1064.76" y1="1030.3" x2="1074.76" y2="1030.3" />
<rect x="1062.16" y="963.5" width="15.20" height="57.3" fill="#9dcdbe" />
<line x1="1062.16" y1="1003.9" x2="1077.36" y2="1003.9" />
<line x1="1085.01" y1="960.1" x2="1085.01" y2="986.4" />
<line x1="1080.01" y1="960.1" x2="1090.01" y2="960.1" />
<line x1="1085.01" y1="1019.8" x2="1085.01" y2="1030.3" />
<line x1="1080.01" y1="1030.3" x2="1090.01" y2="1030.3" />
<rect x="1077.36" y="986.4" width="15.30" height="33.4" fill="#e0b189" />
<line x1="1077.36" y1="998.8" x2="1092.66" y2="998.8" />
<line x1="1103.72" y1="1026.5" x2="1103.72" y2="1027.0" />
<line x1="1098.72" y1="1026.5" x2="1108.72" y2="1026.5" />
<line x1="1098.72" y1="1030.3" x2="1108.72" y2="1030.3" />
<rect x="1096.12" y="1027.0" width="15.20" height="3.3" fill="#9dcdbe" />
<line x1="1096.12" y1="1028.6" x2="1111.32" y2="1028.6" />
<line x1="1118.97" y1="1015.6" x2="1118.97" y2="1022.3" />
<line x1="1113.97" y1="1015.6" x2="1123.97" y2="1015.6" />
<line x1="1113.97" y1="1030.3" x2="1123.97" y2="1030.3" />
<rect x="1111.32" y="1022.3" width="15.30" height="8.0" fill="#e0b189" />
<line x1="1111.32" y1="1030.3" x2="1126.62" y2="1030.3" />
<line x1="1129.47" y1="1030.3" x2="1145.87" y2="1030.3" />
<line x1="1152.92" y1="1024.2" x2="1152.92" y2="1025.2" />
<line x1="1147.92" y1="1024.2" x2="1157.92" y2="1024.2" />
<line x1="1147.92" y1="1030.3" x2="1157.92" y2="1030.3" />
<rect x="1145.27" y="1025.2" width="15.30" height="5.1" fill="#e0b189" />
<line x1="1145.27" y1="1027.2" x2="1160.57" y2="1027.2" />
<line x1="1145.27" y1="1028.6" x2="1160.57" y2="1028.6" />
<line x1="1171.63" y1="820.7" x2="1171.63" y2="942.6" />
<line x1="1166.63" y1="820.7" x2="1176.63" y2="820.7" />
<line x1="1166.63" y1="1030.3" x2="1176.63" y2="1030.3" />
<rect x="1164.03" y="942.6" width="15.20" height="87.7" fill="#9dcdbe" />
<line x1="1164.03" y1="993.1" x2="1179.23" y2="993.1" />
<line x1="1186.88" y1="793.1" x2="1186.88" y2="919.8" />
<line x1="1181.88" y1="793.1" x2="1191.88" y2="793.1" />
<line x1="1181.88" y1="1030.3" x2="1191.88" y2="1030.3" />
<rect x="1179.23" y="919.8" width="15.30" height="110.5" fill="#e0b189" />
<line x1="1179.23" y1="972.1" x2="1194.53" y2="972.1" />
<line x1="1205.58" y1="911.8" x2="1205.58" y2="941.1" />
<line x1="1200.58" y1="911.8" x2="1210.58" y2="911.8" />
<line x1="1205.58" y1="1006.2" x2="1205.58" y2="1030.3" />
<line x1="1200.58" y1="1030.3" x2="1210.58" y2="1030.3" />
<rect x="1197.98" y="941.1" width="15.20" height="65.1" fill="#9dcdbe" />
<line x1="1197.98" y1="969.2" x2="1213.18" y2="969.2" />
<line x1="1220.83" y1="889.9" x2="1220.83" y2="950.5" />
<line x1="1215.83" y1="889.9" x2="1225.83" y2="889.9" />
<line x1="1220.83" y1="993.1" x2="1220.83" y2="1015.9" />
<line x1="1215.83" y1="1015.9" x2="1225.83" y2="1015.9" />
<rect x="1213.18" y="950.5" width="15.30" height="42.6" fill="#e0b189" />
<line x1="1213.18" y1="977.8" x2="1228.48" y2="977.8" />
<line x1="1231.33" y1="1030.3" x2="1247.73" y2="1030.3" />
<line x1="1254.78" y1="1013.1" x2="1254.78" y2="1023.3" />
<line x1="1249.78" y1="1013.1" x2="1259.78" y2="1013.1" />
<line x1="1249.78" y1="1030.3" x2="1259.78" y2="1030.3" />
<rect x="1247.13" y="1023.3" width="15.30" height="7.0" fill="#e0b189" />
<line x1="1247.13" y1="1030.3" x2="1262.43" y2="1030.3" />
<line x1="1273.49" y1="1025.0" x2="1273.49" y2="1027.4" />
<line x1="1268.49" y1="1025.0" x2="1278.49" y2="1025.0" />
<line x1="1268.49" y1="1030.3" x2="1278.49" y2="1030.3" />
<rect x="1265.89" y="1027.4" width="15.20" height="2.9" fill="#9dcdbe" />
<line x1="1265.89" y1="1028.8" x2="1281.09" y2="1028.8" />
<line x1="1288.74" y1="1023" x2="1288.74" y2="1024.0" />
<line x1="1283.74" y1="1023" x2="1293.74" y2="1023" />
<line x1="1283.74" y1="1030.3" x2="1293.74" y2="1030.3" />
<rect x="1281.09" y="1024.0" width="15.30" height="6.3" fill="#e0b189" />
<line x1="1281.09" y1="1025.8" x2="1296.39" y2="1025.8" />
<line x1="1281.09" y1="1027.6" x2="1296.39" y2="1027.6" />
<line x1="1281.09" y1="1029.0" x2="1296.39" y2="1029.0" />
<line x1="1307.44" y1="874.4" x2="1307.44" y2="951.0" />
<line x1="1302.44" y1="874.4" x2="1312.44" y2="874.4" />
<line x1="1307.44" y1="1011.4" x2="1307.44" y2="1030.3" />
<line x1="1302.44" y1="1030.3" x2="1312.44" y2="1030.3" />
<rect x="1299.84" y="951.0" width="15.20" height="60.4" fill="#9dcdbe" />
<line x1="1299.84" y1="985.6" x2="1315.04" y2="985.6" />
<line x1="1322.69" y1="942.6" x2="1322.69" y2="979.1" />
<line x1="1317.69" y1="942.6" x2="1327.69" y2="942.6" />
<line x1="1322.69" y1="1007.1" x2="1322.69" y2="1030.3" />
<line x1="1317.69" y1="1030.3" x2="1327.69" y2="1030.3" />
<rect x="1315.04" y="979.1" width="15.30" height="28.0" fill="#e0b189" />
<line x1="1315.04" y1="997.2" x2="1330.34" y2="997.2" />
<line x1="1333.20" y1="1030.3" x2="1349.60" y2="1030.3" />
<line x1="1356.65" y1="1026.2" x2="1356.65" y2="1026.8" />
<line x1="1351.65" y1="1026.2" x2="1361.65" y2="1026.2" />
<line x1="1351.65" y1="1030.3" x2="1361.65" y2="1030.3" />
<rect x="1349.00" y="1026.8" width="15.30" height="3.5" fill="#e0b189" />
<line x1="1349.00" y1="1028.5" x2="1364.30" y2="1028.5" />
<line x1="1375.35" y1="895.0" x2="1375.35" y2="970.3" />
<line x1="1370.35" y1="895.0" x2="1380.35" y2="895.0" />
<line x1="1375.35" y1="1023.0" x2="1375.35" y2="1030.3" />
<line x1="1370.35" y1="1030.3" x2="1380.35" y2="1030.3" />
<rect x="1367.75" y="970.3" width="15.20" height="52.7" fill="#9dcdbe" />
<line x1="1367.75" y1="1010.3" x2="1382.95" y2="1010.3" />
<line x1="1390.60" y1="976.3" x2="1390.60" y2="997.8" />
<line x1="1385.60" y1="976.3" x2="1395.60" y2="976.3" />
<line x1="1390.60" y1="1023.4" x2="1390.60" y2="1030.3" />
<line x1="1385.60" y1="1030.3" x2="1395.60" y2="1030.3" />
<rect x="1382.95" y="997.8" width="15.30" height="25.6" fill="#e0b189" />
<line x1="1382.95" y1="1011.8" x2="1398.25" y2="1011.8" />
<line x1="1409.30" y1="1024.0" x2="1409.30" y2="1026.6" />
<line x1="1404.30" y1="1024.0" x2="1414.30" y2="1024.0" />
<line x1="1404.30" y1="1030.3" x2="1414.30" y2="1030.3" />
<rect x="1401.70" y="1026.6" width="15.20" height="3.7" fill="#9dcdbe" />
<line x1="1401.70" y1="1028.4" x2="1416.90" y2="1028.4" />
<line x1="1419.55" y1="1028.2" x2="1429.55" y2="1028.2" />
<line x1="1419.55" y1="1030.3" x2="1429.55" y2="1030.3" />
<rect x="1416.90" y="1028.4" width="15.30" height="1.9" fill="#e0b189" />
<line x1="1416.90" y1="1030.3" x2="1432.20" y2="1030.3" />
<line x1="1443.26" y1="860.4" x2="1443.26" y2="925.6" />
<line x1="1438.26" y1="860.4" x2="1448.26" y2="860.4" />
<line x1="1443.26" y1="1007.1" x2="1443.26" y2="1030.3" />
<line x1="1438.26" y1="1030.3" x2="1448.26" y2="1030.3" />
<rect x="1435.66" y="925.6" width="15.20" height="81.5" fill="#9dcdbe" />
<line x1="1435.66" y1="959.6" x2="1450.86" y2="959.6" />
<line x1="1458.51" y1="900.7" x2="1458.51" y2="944.2" />
<line x1="1453.51" y1="900.7" x2="1463.51" y2="900.7" />
<line x1="1458.51" y1="992.7" x2="1458.51" y2="1021.2" />
<line x1="1453.51" y1="1021.2" x2="1463.51" y2="1021.2" />
<rect x="1450.86" y="944.2" width="15.30" height="48.5" fill="#e0b189" />
<line x1="1450.86" y1="982.1" x2="1466.16" y2="982.1" />
<line x1="1469.01" y1="1030.3" x2="1485.41" y2="1030.3" />
<line x1="1492.46" y1="1017.9" x2="1492.46" y2="1025.2" />
<line x1="1487.46" y1="1017.9" x2="1497.46" y2="1017.9" />
<line x1="1487.46" y1="1030.3" x2="1497.46" y2="1030.3" />
<rect x="1484.81" y="1025.2" width="15.30" height="5.1" fill="#e0b189" />
<line x1="1484.81" y1="1029" x2="1500.11" y2="1029" />
<line x1="1511.17" y1="1005.1" x2="1511.17" y2="1019.0" />
<line x1="1506.17" y1="1005.1" x2="1516.17" y2="1005.1" />
<line x1="1506.17" y1="1030.3" x2="1516.17" y2="1030.3" />
<rect x="1503.57" y="1019.0" width="15.20" height="11.3" fill="#9dcdbe" />
<line x1="1503.57" y1="1027.6" x2="1518.77" y2="1027.6" />
<line x1="1526.42" y1="952.4" x2="1526.42" y2="995.0" />
<line x1="1521.42" y1="952.4" x2="1531.42" y2="952.4" />
<line x1="1526.42" y1="1029.8" x2="1526.42" y2="1030.3" />
<line x1="1521.42" y1="1030.3" x2="1531.42" y2="1030.3" />
<rect x="1518.77" y="995.0" width="15.30" height="34.8" fill="#e0b189" />
<line x1="1518.77" y1="1023.3" x2="1534.07" y2="1023.3" />
<line x1="1545.12" y1="1019.0" x2="1545.12" y2="1025.5" />
<line x1="1540.12" y1="1019.0" x2="1550.12" y2="1019.0" />
<line x1="1540.12" y1="1030.3" x2="1550.12" y2="1030.3" />
<rect x="1537.52" y="1025.5" width="15.20" height="4.8" fill="#9dcdbe" />
<line x1="1537.52" y1="1029" x2="1552.72" y2="1029" />
<line x1="1560.37" y1="1025.5" x2="1560.37" y2="1027.0" />
<line x1="1555.37" y1="1025.5" x2="1565.37" y2="1025.5" />
<line x1="1555.37" y1="1030.3" x2="1565.37" y2="1030.3" />
<rect x="1552.72" y="1027.0" width="15.30" height="3.3" fill="#e0b189" />
<line x1="1552.72" y1="1028.6" x2="1568.02" y2="1028.6" />
<line x1="1579.07" y1="936.6" x2="1579.07" y2="988.5" />
<line x1="1574.07" y1="936.6" x2="1584.07" y2="936.6" />
<line x1="1579.07" y1="1024.2" x2="1579.07" y2="1030.0" />
<line x1="1574.07" y1="1030.0" x2="1584.07" y2="1030.0" />
<rect x="1571.47" y="988.5" width="15.20" height="35.7" fill="#9dcdbe" />
<line x1="1571.47" y1="1009.3" x2="1586.67" y2="1009.3" />
<line x1="1594.32" y1="995.1" x2="1594.32" y2="1013.0" />
<line x1="1589.32" y1="995.1" x2="1599.32" y2="995.1" />
<line x1="1594.32" y1="1028.3" x2="1594.32" y2="1030.3" />
<line x1="1589.32" y1="1030.3" x2="1599.32" y2="1030.3" />
<rect x="1586.67" y="1013.0" width="15.30" height="15.3" fill="#e0b189" />
<line x1="1586.67" y1="1026.2" x2="1601.97" y2="1026.2" />
<line x1="1608.03" y1="1028.3" x2="1618.03" y2="1028.3" />
<line x1="1608.03" y1="1030.3" x2="1618.03" y2="1030.3" />
<rect x="1605.43" y="1028.3" width="15.20" height="2.0" fill="#9dcdbe" />
<line x1="1605.43" y1="1030.3" x2="1620.63" y2="1030.3" />
<line x1="1623.28" y1="1026.2" x2="1633.28" y2="1026.2" />
<line x1="1623.28" y1="1030.3" x2="1633.28" y2="1030.3" />
<rect x="1620.63" y="1026.2" width="15.30" height="4.1" fill="#e0b189" />
<line x1="1620.63" y1="1030.3" x2="1635.93" y2="1030.3" />
<line x1="1646.98" y1="999.5" x2="1646.98" y2="1015.1" />
<line x1="1641.98" y1="999.5" x2="1651.98" y2="999.5" />
<line x1="1646.98" y1="1027.3" x2="1646.98" y2="1030.3" />
<line x1="1641.98" y1="1030.3" x2="1651.98" y2="1030.3" />
<rect x="1639.38" y="1015.1" width="15.20" height="12.2" fill="#9dcdbe" />
<line x1="1639.38" y1="1022.8" x2="1654.58" y2="1022.8" />
<line x1="1662.23" y1="1006.4" x2="1662.23" y2="1018.2" />
<line x1="1657.23" y1="1006.4" x2="1667.23" y2="1006.4" />
<line x1="1662.23" y1="1027.3" x2="1662.23" y2="1030.3" />
<line x1="1657.23" y1="1030.3" x2="1667.23" y2="1030.3" />
<rect x="1654.58" y="1018.2" width="15.30" height="9.1" fill="#e0b189" />
<line x1="1654.58" y1="1024.6" x2="1669.88" y2="1024.6" />
<line x1="1680.94" y1="999.9" x2="1680.94" y2="1013.3" />
<line x1="1675.94" y1="999.9" x2="1685.94" y2="999.9" />
<line x1="1680.94" y1="1028.3" x2="1680.94" y2="1030.3" />
<line x1="1675.94" y1="1030.3" x2="1685.94" y2="1030.3" />
<rect x="1673.34" y="1013.3" width="15.20" height="15.0" fill="#9dcdbe" />
<line x1="1673.34" y1="1023.0" x2="1688.54" y2="1023.0" />
<line x1="1696.19" y1="1011.9" x2="1696.19" y2="1020.7" />
<line x1="1691.19" y1="1011.9" x2="1701.19" y2="1011.9" />
<line x1="1696.19" y1="1028.8" x2="1696.19" y2="1030.3" />
<line x1="1691.19" y1="1030.3" x2="1701.19" y2="1030.3" />
<rect x="1688.54" y="1020.7" width="15.30" height="8.1" fill="#e0b189" />
<line x1="1688.54" y1="1026.2" x2="1703.84" y2="1026.2" />
<line x1="1706.69" y1="1030.3" x2="1723.09" y2="1030.3" />
<line x1="1721.89" y1="1030.3" x2="1738.39" y2="1030.3" />
</g>
<g stroke="#000" stroke-width="2.1" fill="none">
<rect x="176.1" y="3.8" width="1565.0" height="513.5"/>
<rect x="176.2" y="540.6" width="1565.8" height="515.5"/>
<line x1="168" y1="493.6" x2="176" y2="493.6"/>
<line x1="168" y1="1031.0" x2="176" y2="1031.0"/>
<line x1="168" y1="420.1" x2="176" y2="420.1"/>
<line x1="168" y1="955.0" x2="176" y2="955.0"/>
<line x1="168" y1="346.6" x2="176" y2="346.6"/>
<line x1="168" y1="879.1" x2="176" y2="879.1"/>
<line x1="168" y1="273.1" x2="176" y2="273.1"/>
<line x1="168" y1="803.1" x2="176" y2="803.1"/>
<line x1="168" y1="199.6" x2="176" y2="199.6"/>
<line x1="168" y1="727.2" x2="176" y2="727.2"/>
<line x1="168" y1="126.1" x2="176" y2="126.1"/>
<line x1="168" y1="651.2" x2="176" y2="651.2"/>
<line x1="168" y1="52.6" x2="176" y2="52.6"/>
<line x1="168" y1="575.3" x2="176" y2="575.3"/>
<line x1="194.7" y1="517.3" x2="194.7" y2="524.8"/>
<line x1="194.7" y1="1056.1" x2="194.7" y2="1064.2"/>
<line x1="228.6" y1="517.3" x2="228.6" y2="524.8"/>
<line x1="228.6" y1="1056.1" x2="228.6" y2="1064.2"/>
<line x1="262.6" y1="517.3" x2="262.6" y2="524.8"/>
<line x1="262.6" y1="1056.1" x2="262.6" y2="1064.2"/>
<line x1="296.5" y1="517.3" x2="296.5" y2="524.8"/>
<line x1="296.5" y1="1056.1" x2="296.5" y2="1064.2"/>
<line x1="330.5" y1="517.3" x2="330.5" y2="524.8"/>
<line x1="330.5" y1="1056.1" x2="330.5" y2="1064.2"/>
<line x1="364.4" y1="517.3" x2="364.4" y2="524.8"/>
<line x1="364.4" y1="1056.1" x2="364.4" y2="1064.2"/>
<line x1="398.4" y1="517.3" x2="398.4" y2="524.8"/>
<line x1="398.4" y1="1056.1" x2="398.4" y2="1064.2"/>
<line x1="432.3" y1="517.3" x2="432.3" y2="524.8"/>
<line x1="432.3" y1="1056.1" x2="432.3" y2="1064.2"/>
<line x1="466.3" y1="517.3" x2="466.3" y2="524.8"/>
<line x1="466.3" y1="1056.1" x2="466.3" y2="1064.2"/>
<line x1="500.2" y1="517.3" x2="500.2" y2="524.8"/>
<line x1="500.2" y1="1056.1" x2="500.2" y2="1064.2"/>
<line x1="534.2" y1="517.3" x2="534.2" y2="524.8"/>
<line x1="534.2" y1="1056.1" x2="534.2" y2="1064.2"/>
<line x1="568.2" y1="517.3" x2="568.2" y2="524.8"/>
<line x1="568.2" y1="1056.1" x2="568.2" y2="1064.2"/>
<line x1="602.1" y1="517.3" x2="602.1" y2="524.8"/>
<line x1="602.1" y1="1056.1" x2="602.1" y2="1064.2"/>
<line x1="636.1" y1="517.3" x2="636.1" y2="524.8"/>
<line x1="636.1" y1="1056.1" x2="636.1" y2="1064.2"/>
<line x1="670.0" y1="517.3" x2="670.0" y2="524.8"/>
<line x1="670.0" y1="1056.1" x2="670.0" y2="1064.2"/>
<line x1="704.0" y1="517.3" x2="704.0" y2="524.8"/>
<line x1="704.0" y1="1056.1" x2="704.0" y2="1064.2"/>
<line x1="737.9" y1="517.3" x2="737.9" y2="524.8"/>
<line x1="737.9" y1="1056.1" x2="737.9" y2="1064.2"/>
<line x1="771.9" y1="517.3" x2="771.9" y2="524.8"/>
<line x1="771.9" y1="1056.1" x2="771.9" y2="1064.2"/>
<line x1="805.8" y1="517.3" x2="805.8" y2="524.8"/>
<line x1="805.8" y1="1056.1" x2="805.8" y2="1064.2"/>
<line x1="839.8" y1="517.3" x2="839.8" y2="524.8"/>
<line x1="839.8" y1="1056.1" x2="839.8" y2="1064.2"/>
<line x1="873.7" y1="517.3" x2="873.7" y2="524.8"/>
<line x1="873.7" y1="1056.1" x2="873.7" y2="1064.2"/>
<line x1="907.7" y1="517.3" x2="907.7" y2="524.8"/>
<line x1="907.7" y1="1056.1" x2="907.7" y2="1064.2"/>
<line x1="941.6" y1="517.3" x2="941.6" y2="524.8"/>
<line x1="941.6" y1="1056.1" x2="941.6" y2="1064.2"/>
<line x1="975.6" y1="517.3" x2="975.6" y2="524.8"/>
<line x1="975.6" y1="1056.1" x2="975.6" y2="1064.2"/>
<line x1="1009.6" y1="517.3" x2="1009.6" y2="524.8"/>
<line x1="1009.6" y1="1056.1" x2="1009.6" y2="1064.2"/>
<line x1="1043.5" y1="517.3" x2="1043.5" y2="524.8"/>
<line x1="1043.5" y1="1056.1" x2="1043.5" y2="1064.2"/>
<line x1="1077.5" y1="517.3" x2="1077.5" y2="524.8"/>
<line x1="1077.5" y1="1056.1" x2="1077.5" y2="1064.2"/>
<line x1="1111.4" y1="517.3" x2="1111.4" y2="524.8"/>
<line x1="1111.4" y1="1056.1" x2="1111.4" y2="1064.2"/>
<line x1="1145.4" y1="517.3" x2="1145.4" y2="524.8"/>
<line x1="1145.4" y1="1056.1" x2="1145.4" y2="1064.2"/>
<line x1="1179.3" y1="517.3" x2="1179.3" y2="524.8"/>
<line x1="1179.3" y1="1056.1" x2="1179.3" y2="1064.2"/>
<line x1="1213.3" y1="517.3" x2="1213.3" y2="524.8"/>
<line x1="1213.3" y1="1056.1" x2="1213.3" y2="1064.2"/>
<line x1="1247.2" y1="517.3" x2="1247.2" y2="524.8"/>
<line x1="1247.2" y1="1056.1" x2="1247.2" y2="1064.2"/>
<line x1="1281.2" y1="517.3" x2="1281.2" y2="524.8"/>
<line x1="1281.2" y1="1056.1" x2="1281.2" y2="1064.2"/>
<line x1="1315.1" y1="517.3" x2="1315.1" y2="524.8"/>
<line x1="1315.1" y1="1056.1" x2="1315.1" y2="1064.2"/>
<line x1="1349.1" y1="517.3" x2="1349.1" y2="524.8"/>
<line x1="1349.1" y1="1056.1" x2="1349.1" y2="1064.2"/>
<line x1="1383.0" y1="517.3" x2="1383.0" y2="524.8"/>
<line x1="1383.0" y1="1056.1" x2="1383.0" y2="1064.2"/>
<line x1="1417.0" y1="517.3" x2="1417.0" y2="524.8"/>
<line x1="1417.0" y1="1056.1" x2="1417.0" y2="1064.2"/>
<line x1="1451.0" y1="517.3" x2="1451.0" y2="524.8"/>
<line x1="1451.0" y1="1056.1" x2="1451.0" y2="1064.2"/>
<line x1="1484.9" y1="517.3" x2="1484.9" y2="524.8"/>
<line x1="1484.9" y1="1056.1" x2="1484.9" y2="1064.2"/>
<line x1="1518.9" y1="517.3" x2="1518.9" y2="524.8"/>
<line x1="1518.9" y1="1056.1" x2="1518.9" y2="1064.2"/>
<line x1="1552.8" y1="517.3" x2="1552.8" y2="524.8"/>
<line x1="1552.8" y1="1056.1" x2="1552.8" y2="1064.2"/>
<line x1="1586.8" y1="517.3" x2="1586.8" y2="524.8"/>
<line x1="1586.8" y1="1056.1" x2="1586.8" y2="1064.2"/>
<line x1="1620.7" y1="517.3" x2="1620.7" y2="524.8"/>
<line x1="1620.7" y1="1056.1" x2="1620.7" y2="1064.2"/>
<line x1="1654.7" y1="517.3" x2="1654.7" y2="524.8"/>
<line x1="1654.7" y1="1056.1" x2="1654.7" y2="1064.2"/>
<line x1="1688.6" y1="517.3" x2="1688.6" y2="524.8"/>
<line x1="1688.6" y1="1056.1" x2="1688.6" y2="1064.2"/>
<line x1="1722.6" y1="517.3" x2="1722.6" y2="524.8"/>
<line x1="1722.6" y1="1056.1" x2="1722.6" y2="1064.2"/>
</g>
<g font-size="29.4" text-anchor="middle">
<text x="148.6" y="502.6">0</text>
<text x="148.6" y="1040.0">0</text>
<text x="148.6" y="429.1">1</text>
<text x="148.6" y="964.0">1</text>
<text x="148.6" y="355.6">2</text>
<text x="148.6" y="888.1">2</text>
<text x="148.6" y="282.1">3</text>
<text x="148.6" y="812.1">3</text>
<text x="148.6" y="208.6">4</text>
<text x="148.6" y="736.2">4</text>
<text x="148.6" y="135.1">5</text>
<text x="148.6" y="660.2">5</text>
<text x="148.6" y="61.6">6</text>
<text x="148.6" y="584.3">6</text>
</g>
<text transform="translate(114,527) rotate(-90)" font-size="29.2" text-anchor="middle">Relative abundance (Log<tspan font-size="21.5" dy="8">2</tspan><tspan dy="-8">)</tspan></text>
<rect x="734.8" y="20.3" width="31.5" height="31.2" fill="#9dcdbe"/>
<rect x="974.2" y="20.3" width="31.6" height="31.2" fill="#e0b189"/>
<text x="776.8" y="46.4" font-size="29.6">Control</text>
<text x="1015.6" y="46.4" font-size="29.6">UIA</text>
<g font-size="29.2" text-anchor="middle">
<text x="1573" y="53.5">The first cohort</text>
<text x="1570" y="88.5">(200 samples)</text>
<text x="1574" y="595">The second cohort</text>
<text x="1570" y="629.7">(80 samples)</text>
</g>
<g font-size="23.5" text-anchor="middle" stroke="#000" stroke-width="0.5">
<text x="670.0" y="1089">*</text>
<text x="839.8" y="1089">*</text>
<text x="1009.6" y="1089">*</text>
<text x="1247.2" y="1089">*</text>
<text x="1281.2" y="1089">*</text>
<text x="1484.9" y="1089">*</text>
<text x="1620.7" y="1089">*</text>
<text x="1722.6" y="1089">*</text>
</g>
<g class="lab" text-anchor="end">
<text class="lab" x="205.7" y="1112.4" transform="rotate(-45 205.7 1112.4)">s_Faecalibacterium_prausnitzii</text>
<text class="lab" x="240.1" y="1112.3" transform="rotate(-45 240.1 1112.3)">s_Prevotella_copri</text>
<text class="lab" x="272.6" y="1106.5" transform="rotate(-45 272.6 1106.5)">s_Eubacterium_rectale</text>
<text class="lab" x="307.9" y="1112.1" transform="rotate(-45 307.9 1112.1)">s_Escherichia_coli</text>
<text class="lab" x="340.2" y="1106.8" transform="rotate(-45 340.2 1106.8)">s_Bacteroides_massiliensis</text>
<text class="lab" x="375.6" y="1112.3" transform="rotate(-45 375.6 1112.3)">s_Bacteroides_dorei</text>
<text class="lab" x="408.0" y="1106.5" transform="rotate(-45 408.0 1106.5)">s_Bacteroides_caccae</text>
<text class="lab" x="441.1" y="1107.4" transform="rotate(-45 441.1 1107.4)">s_Bacteroides_ovatus</text>
<text class="lab" x="475.5" y="1106.5" transform="rotate(-45 475.5 1106.5)">s_Parabacteroides_merdae</text>
<text class="lab" x="510.7" y="1112.5" transform="rotate(-45 510.7 1112.5)">s_Ruminococcus_bromii</text>
<text class="lab" x="542.8" y="1107.4" transform="rotate(-45 542.8 1107.4)">s_Bacteroides_thetaiotaomicron</text>
<text class="lab" x="578.3" y="1111.7" transform="rotate(-45 578.3 1111.7)">s_Alistipes_onderdonkii</text>
<text class="lab" x="615.5" y="1108.6" transform="rotate(-45 615.5 1108.6)">s_Lachnospiraceae_bacterium_1_1_57FAA</text>
<text class="lab" x="646.2" y="1112.1" transform="rotate(-45 646.2 1112.1)">s_Bilophila_unclassified</text>
<text class="lab" x="678.7" y="1106.8" transform="rotate(-45 678.7 1106.8)">s_Odoribacter_splanchnicus</text>
<text class="lab" x="713.0" y="1106.8" transform="rotate(-45 713.0 1106.8)">s_Ruminococcus_torques</text>
<text class="lab" x="746.6" y="1106.8" transform="rotate(-45 746.6 1106.8)">s_Bacteroides_fragilis</text>
<text class="lab" x="780.4" y="1106.8" transform="rotate(-45 780.4 1106.8)">s_Sutterella_wadsworthensis</text>
<text class="lab" x="816.6" y="1109.5" transform="rotate(-45 816.6 1109.5)">s_Bacteroidales_bacterium_ph8</text>
<text class="lab" x="848.5" y="1106.8" transform="rotate(-45 848.5 1106.8)">s_Alistipes_putredinis</text>
<text class="lab" x="882.4" y="1106.8" transform="rotate(-45 882.4 1106.8)">s_Bacteroides_xylanisolvens</text>
<text class="lab" x="916.2" y="1106.8" transform="rotate(-45 916.2 1106.8)">s_Dialister_invisus</text>
<text class="lab" x="949.9" y="1106.8" transform="rotate(-45 949.9 1106.8)">s_Ruminococcus_gnavus</text>
<text class="lab" x="984.0" y="1107.2" transform="rotate(-45 984.0 1107.2)">s_Eubacterium_ventriosum</text>
<text class="lab" x="1019.6" y="1111.8" transform="rotate(-45 1019.6 1111.8)">s_Hungatella_hathewayi</text>
<text class="lab" x="1052.0" y="1106.5" transform="rotate(-45 1052.0 1106.5)">s_Clostridium_bolteae</text>
<text class="lab" x="1086.2" y="1106.8" transform="rotate(-45 1086.2 1106.8)">s_Coprococcus_comes</text>
<text class="lab" x="1120.9" y="1112.0" transform="rotate(-45 1120.9 1112.0)">s_Escherichia_unclassified</text>
<text class="lab" x="1153.4" y="1106.5" transform="rotate(-45 1153.4 1106.5)">s_Clostridium_nexile</text>
<text class="lab" x="1187.0" y="1106.8" transform="rotate(-45 1187.0 1106.8)">s_Collinsella_aerofaciens</text>
<text class="lab" x="1220.7" y="1106.2" transform="rotate(-45 1220.7 1106.2)">s_Ruminococcus_obeum</text>
<text class="lab" x="1255.4" y="1106.8" transform="rotate(-45 1255.4 1106.8)">s_Bacteroides_intestinalis</text>
<text class="lab" x="1289.2" y="1106.8" transform="rotate(-45 1289.2 1106.8)">s_Bacteroides_cellulosilyticus</text>
<text class="lab" x="1322.0" y="1106.2" transform="rotate(-45 1322.0 1106.2)">s_Dorea_longicatena</text>
<text class="lab" x="1357.3" y="1106.8" transform="rotate(-45 1357.3 1106.8)">s_Streptococcus_thermophilus</text>
<text class="lab" x="1395.3" y="1108.0" transform="rotate(-45 1395.3 1108.0)">s_Lachnospiraceae_bacterium_5_1_63FAA</text>
<text class="lab" x="1426.0" y="1112.1" transform="rotate(-45 1426.0 1112.1)">s_Coprobacillus_unclassified</text>
<text class="lab" x="1459.7" y="1112.6" transform="rotate(-45 1459.7 1112.6)">s_Eubacterium_hallii</text>
<text class="lab" x="1496.7" y="1108.2" transform="rotate(-45 1496.7 1108.2)">s_Lachnospiraceae_bacterium_3_1_46FAA</text>
<text class="lab" x="1528.1" y="1111.9" transform="rotate(-45 1528.1 1111.9)">s_Clostridium_bartlettii</text>
<text class="lab" x="1567.9" y="1101.4" transform="rotate(-45 1567.9 1101.4)">s_Lachnospiraceae_bacterium_2_</text>
<text class="lab" x="1594.3" y="1106.8" transform="rotate(-45 1594.3 1106.8)">s_Streptococcus_salivarius</text>
<text class="lab" x="1629.4" y="1111.9" transform="rotate(-45 1629.4 1111.9)">s_Bacteroides_nordii</text>
<text class="lab" x="1662.0" y="1106.8" transform="rotate(-45 1662.0 1106.8)">s_Dorea_formicigenerans</text>
<text class="lab" x="1695.7" y="1106.8" transform="rotate(-45 1695.7 1106.8)">s_Anaerostipes_hadrus</text>
<text class="lab" x="1730.9" y="1111.2" transform="rotate(-45 1730.9 1111.2)">s_Parabacteroides_sp_D25</text>
</g>
</svg></body></html>
